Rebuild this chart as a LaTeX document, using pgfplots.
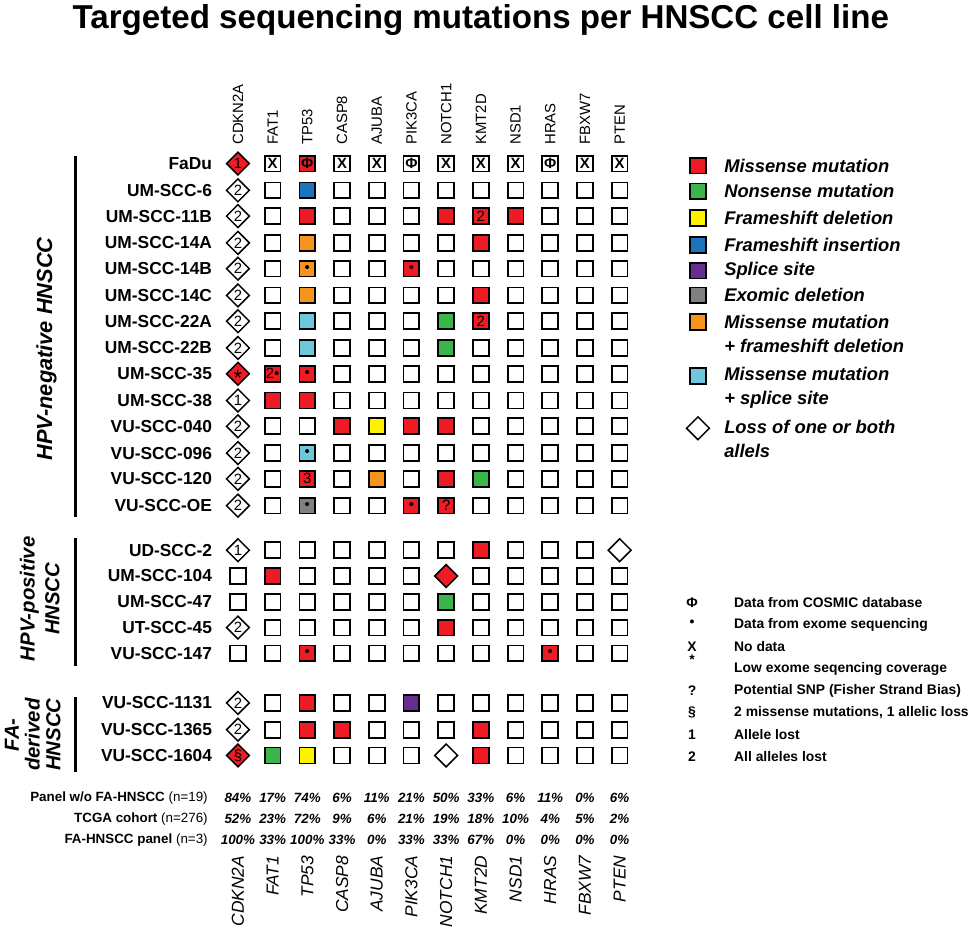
\documentclass[border=0pt]{standalone}
\usepackage{pgfplots}
\pgfplotsset{compat=1.18}
\usepackage{pgfplotstable}
\usepackage{fontspec}
\setmainfont{Liberation Sans}

\definecolor{mred}{RGB}{237,28,36}
\definecolor{mgreen}{RGB}{57,181,74}
\definecolor{myellow}{RGB}{255,242,0}
\definecolor{mblue}{RGB}{28,117,188}
\definecolor{mpurple}{RGB}{102,45,145}
\definecolor{mgray}{RGB}{128,128,128}
\definecolor{morange}{RGB}{247,148,29}
\definecolor{mcyan}{RGB}{109,200,222}

\pgfdeclareplotmark{dmd}{%
 \pgfpathmoveto{\pgfqpoint{0pt}{\pgfplotmarksize}}%
 \pgfpathlineto{\pgfqpoint{\pgfplotmarksize}{0pt}}%
 \pgfpathlineto{\pgfqpoint{0pt}{-\pgfplotmarksize}}%
 \pgfpathlineto{\pgfqpoint{-\pgfplotmarksize}{0pt}}%
 \pgfpathclose\pgfusepathqfillstroke}
\pgfdeclareplotmark{nothing}{}

\tikzset{
 sqbase/.style={mark=square*, mark size=8pt, draw=black, line width=1.8pt, fill=#1},
 dmbase/.style={mark=dmd, mark size=11.5pt, draw=black, line width=1.5pt, fill=#1},
}
\newcommand\fs[2]{\fontsize{#1}{#2}\selectfont}
\newcommand\celltext[1]{\ifcsname lbl@#1\endcsname\csname lbl@#1\endcsname\fi}
\expandafter\def\csname lbl@eX\endcsname{\bfseries X}
\expandafter\def\csname lbl@eF\endcsname{\bfseries Φ}
\expandafter\def\csname lbl@rF\endcsname{\bfseries Φ}
\expandafter\def\csname lbl@r2\endcsname{2}
\expandafter\def\csname lbl@rd\endcsname{•}
\expandafter\def\csname lbl@r2d\endcsname{2•}
\expandafter\def\csname lbl@r3\endcsname{3}
\expandafter\def\csname lbl@rq\endcsname{?}
\expandafter\def\csname lbl@od\endcsname{•}
\expandafter\def\csname lbl@cd\endcsname{•}
\expandafter\def\csname lbl@kd\endcsname{•}
\expandafter\def\csname lbl@D1\endcsname{1}
\expandafter\def\csname lbl@D2\endcsname{2}
\expandafter\def\csname lbl@RD1\endcsname{1}
\expandafter\def\csname lbl@RDs\endcsname{\raisebox{-12pt}[0pt][0pt]{\fs{22}{22}*}}
\expandafter\def\csname lbl@RDS\endcsname{§}

\pgfplotsset{
 cellmarks/.style={scatter, only marks, point meta=explicit symbolic,
  scatter/classes={
   e={sqbase=white}, eX={sqbase=white}, eF={sqbase=white},
   r={sqbase=mred}, rF={sqbase=mred}, r2={sqbase=mred}, rd={sqbase=mred},
   r2d={sqbase=mred}, r3={sqbase=mred}, rq={sqbase=mred},
   g={sqbase=mgreen}, y={sqbase=myellow}, b={sqbase=mblue}, p={sqbase=mpurple},
   k={sqbase=mgray}, kd={sqbase=mgray}, o={sqbase=morange}, od={sqbase=morange},
   c={sqbase=mcyan}, cd={sqbase=mcyan},
   D={dmbase=white}, D1={dmbase=white}, D2={dmbase=white},
   RD={dmbase=mred}, RD1={dmbase=mred}, RDs={dmbase=mred}, RDS={dmbase=mred}}},
 celltexts/.style={only marks, mark=nothing, point meta=explicit symbolic,
   nodes near coords={\celltext{\pgfplotspointmeta}}, nodes near coords align={center},
   every node near coord/.append style={font=\fs{15}{15}, inner sep=0pt, text=black}},
 labeltexts/.style={only marks, mark=nothing, point meta=explicit symbolic,
   nodes near coords={\pgfplotspointmeta}, nodes near coords align={#1},
   every node near coord/.append style={inner sep=0pt, text=black}},
}

% cell grid: name, row position (px), one code per gene
\pgfplotstableread{
name y g0 g1 g2 g3 g4 g5 g6 g7 g8 g9 g10 g11
FaDu 165 RD1 eX rF eX eX eF eX eX eX eF eX eX
UM-SCC-6 192 D2 e b e e e e e e e e e
UM-SCC-11B 218 D2 e r e e e r r2 r e e e
UM-SCC-14A 245 D2 e o e e e e r e e e e
UM-SCC-14B 271 D2 e od e e rd e e e e e e
UM-SCC-14C 298 D2 e o e e e e r e e e e
UM-SCC-22A 324 D2 e c e e e g r2 e e e e
UM-SCC-22B 351 D2 e c e e e g e e e e e
UM-SCC-35 377 RDs r2d rd e e e e e e e e e
UM-SCC-38 404 D1 r r e e e e e e e e e
VU-SCC-040 430 D2 e e r y r r e e e e e
VU-SCC-096 457 D2 e cd e e e e e e e e e
VU-SCC-120 483 D2 e r3 e o e r g e e e e
VU-SCC-OE 510 D2 e kd e e rd rq e e e e e
UD-SCC-2 555 D1 e e e e e e r e e e D
UM-SCC-104 581 e r e e e e RD e e e e e
UM-SCC-47 607 e e e e e e g e e e e e
UT-SCC-45 633 D2 e e e e e r e e e e e
VU-SCC-147 659 e e rd e e e e e e rd e e
VU-SCC-1131 709 D2 e r e e p e e e e e e
VU-SCC-1365 736 D2 e r r e e e r e e e e
VU-SCC-1604 762 RDS g y e e e D r e e e e
}\cells

\pgfplotstableread{
c name
0 CDKN2A
1 FAT1
2 TP53
3 CASP8
4 AJUBA
5 PIK3CA
6 NOTCH1
7 KMT2D
8 NSD1
9 HRAS
10 FBXW7
11 PTEN
}\genes

% mutation frequencies (%): panel w/o FA-HNSCC, TCGA cohort, FA-HNSCC panel
\pgfplotstableread{
c pa tc fa
0 84 52 100
1 17 23 33
2 74 72 100
3 6 9 33
4 11 6 0
5 21 21 33
6 50 19 33
7 33 18 67
8 6 10 0
9 11 4 0
10 0 5 0
11 6 2 0
}\pct

\pgfplotstableread{
x y cls
704 167 r
704 193 g
704 220 y
704 247 b
704 273 p
704 298 k
704 325 o
704 379 c
704 432 D
}\legmarks

\pgfplotstableread{
x y sym
698 608 Φ
698 629 •
698 652 X
698 665 *
698 697 ?
698 719 §
698 741 1
698 763 2
}\legsyms

\begin{document}
\begin{tikzpicture}
\begin{axis}[x=1pt, y=1pt, xmin=0, xmax=972, ymin=0, ymax=934, y dir=reverse,
  hide axis, scale only axis, clip=false]
\path (rel axis cs:0,0) rectangle (rel axis cs:1,1);

% title
\node[anchor=base, font=\fs{33.4}{36}\bfseries] at (axis cs:485,29)
  {Targeted sequencing mutations per HNSCC cell line};

% cell markers
\pgfplotsinvokeforeach{0,...,11}{
  \addplot[cellmarks] table[x expr={240+35*#1}, y=y, meta=g#1] {\cells};
}
\pgfplotsinvokeforeach{0,...,11}{
  \addplot[celltexts] table[x expr={240+35*#1}, y=y, meta=g#1] {\cells};
}

% row labels
\addplot[labeltexts=east, every node near coord/.append style={font=\fs{17.5}{20}\bfseries}]
  table[x expr=214, y=y, meta=name] {\cells};

% gene labels top and bottom
\addplot[labeltexts=west, every node near coord/.append style={rotate=90, font=\fs{15}{18}}]
  table[x expr={240+35*\thisrow{c}}, y expr=146, meta=name] {\genes};
\addplot[labeltexts=east, every node near coord/.append style={rotate=90, font=\fs{17.5}{18}\itshape}]
  table[x expr={240+35*\thisrow{c}}, y expr=863, meta=name] {\genes};

% percentages
\pgfplotsset{pctstyle/.style={only marks, mark=nothing, point meta=explicit symbolic,
   nodes near coords={\pgfplotspointmeta\%}, nodes near coords align={center},
   every node near coord/.append style={inner sep=0pt, text=black, font=\fs{13.5}{15}\bfseries\itshape}}}
\addplot[pctstyle] table[x expr={240+35*\thisrow{c}}, y expr=805, meta=pa] {\pct};
\addplot[pctstyle] table[x expr={240+35*\thisrow{c}}, y expr=826, meta=tc] {\pct};
\addplot[pctstyle] table[x expr={240+35*\thisrow{c}}, y expr=847, meta=fa] {\pct};
\node[anchor=east, font=\fs{13.5}{15}] at (axis cs:213,805) {\bfseries Panel w/o FA-HNSCC \mdseries(n=19)};
\node[anchor=east, font=\fs{13.5}{15}] at (axis cs:213,826) {\bfseries TCGA cohort \mdseries(n=276)};
\node[anchor=east, font=\fs{13.5}{15}] at (axis cs:213,847) {\bfseries FA-HNSCC panel \mdseries(n=3)};

% group brackets and labels
\addplot[black, line width=3pt] coordinates {(76,157) (76,521)};
\addplot[black, line width=3pt] coordinates {(76,543) (76,672)};
\addplot[black, line width=3pt] coordinates {(76,703) (76,779)};
\node[rotate=90, font=\fs{22}{26}\bfseries\itshape] at (axis cs:47,352) {HPV-negative HNSCC};
\node[rotate=90, align=center, font=\fs{20.5}{25}\bfseries\itshape] at (axis cs:40,604) {HPV-positive\\HNSCC};
\node[rotate=90, align=center, font=\fs{20.5}{21}\bfseries\itshape] at (axis cs:33,741) {FA-\\derived\\HNSCC};

% legend markers
\addplot[cellmarks] table[x=x, y=y, meta=cls] {\legmarks};
\begin{scope}[every node/.style={anchor=west, align=left, font=\fs{18.5}{24}\bfseries\itshape}]
\node at (axis cs:727,167) {Missense mutation};
\node at (axis cs:727,193) {Nonsense mutation};
\node at (axis cs:727,220) {Frameshift deletion};
\node at (axis cs:727,247) {Frameshift insertion};
\node at (axis cs:727,273) {Splice site};
\node at (axis cs:727,298) {Exomic deletion};
\node at (axis cs:727,337) {Missense mutation\\+ frameshift deletion};
\node at (axis cs:727,391) {Missense mutation\\+ splice site};
\node at (axis cs:727,443) {Loss of one or both\\allels};
\end{scope}

% symbol legend
\addplot[labeltexts=center, every node near coord/.append style={font=\fs{14}{14}\bfseries}]
  table[x=x, y=y, meta=sym] {\legsyms};
\begin{scope}[every node/.style={anchor=west, font=\fs{14}{16}\bfseries}]
\node at (axis cs:737,608) {Data from COSMIC database};
\node at (axis cs:737,630) {Data from exome sequencing};
\node at (axis cs:737,652) {No data};
\node at (axis cs:737,675) {Low exome seqencing coverage};
\node at (axis cs:737,697) {Potential SNP (Fisher Strand Bias)};
\node at (axis cs:737,719) {2 missense mutations, 1 allelic loss};
\node at (axis cs:737,741) {Allele lost};
\node at (axis cs:737,763) {All alleles lost};
\end{scope}
\end{axis}
\end{tikzpicture}
\end{document}
